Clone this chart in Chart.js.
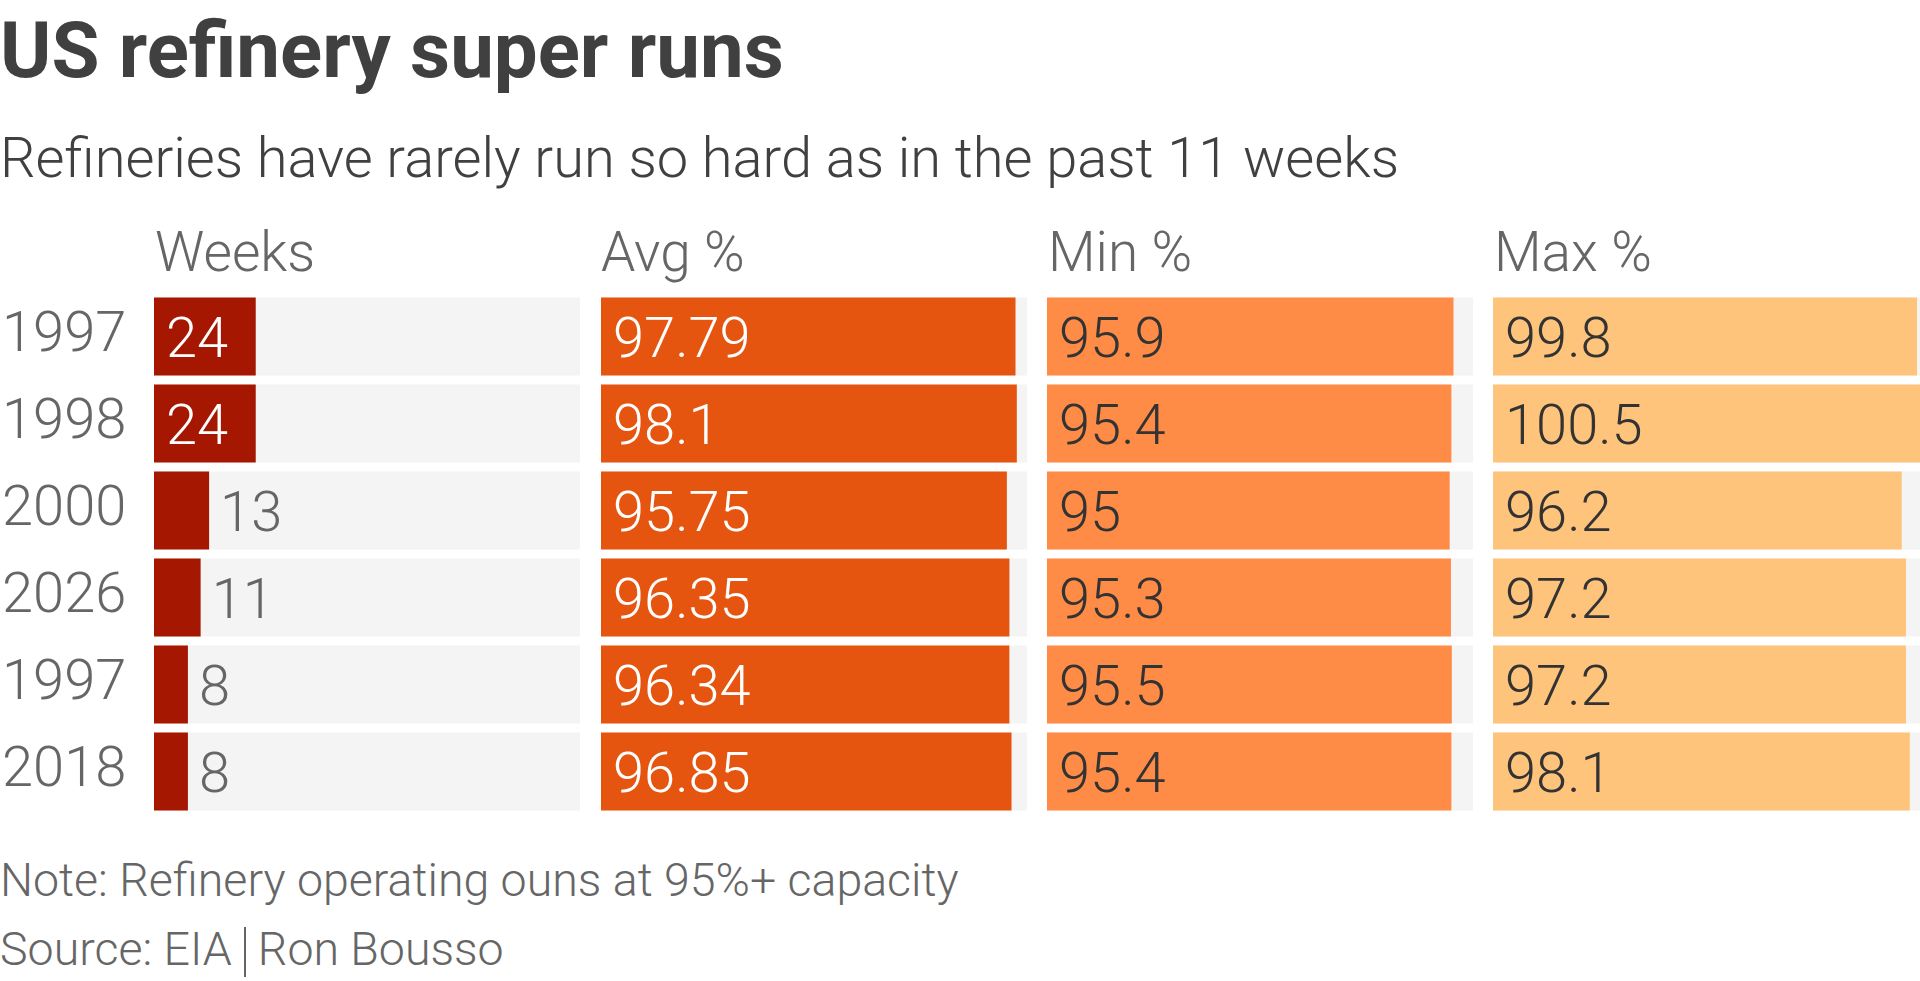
<!DOCTYPE html>
<html>
<head>
<meta charset="utf-8">
<script src="https://cdn.jsdelivr.net/npm/chart.js@4/dist/chart.umd.min.js"></script>
<style>
  html, body { margin:0; padding:0; background:#fff; }
  body { width:1920px; height:981px; position:relative; overflow:hidden; font-family:Roboto, "Noto Sans", sans-serif; }
  .txt { position:absolute; left:0; line-height:1; white-space:nowrap; }
  #title { top:12px; font-size:78px; font-weight:700; color:#404040; }
  #subtitle { top:130px; font-size:56px; font-weight:300; color:#404040; }
  .head { top:225px; font-size:55px; font-weight:300; color:#666; }
  .foot { font-size:46.5px; font-weight:300; color:#666; }
  .sep { display:inline-block; width:2px; height:50px; background:#666; margin:0 12px; vertical-align:-12px; }
  canvas { position:absolute; }
</style>
</head>
<body>
<div id="title" class="txt">US refinery super runs</div>
<div id="subtitle" class="txt">Refineries have rarely run so hard as in the past 11 weeks</div>
<div class="txt head" style="left:155px">Weeks</div>
<div class="txt head" style="left:601px">Avg %</div>
<div class="txt head" style="left:1048px">Min %</div>
<div class="txt head" style="left:1494px">Max %</div>

<canvas id="c0" width="578" height="522" style="left:2px;top:293px"></canvas>
<canvas id="c1" width="426" height="522" style="left:601px;top:293px"></canvas>
<canvas id="c2" width="426" height="522" style="left:1047px;top:293px"></canvas>
<canvas id="c3" width="427" height="522" style="left:1493px;top:293px"></canvas>

<div class="txt foot" style="top:857px">Note: Refinery operating ouns at 95%+ capacity</div>
<div class="txt foot" style="top:926px">Source: EIA<span class="sep"></span>Ron Bousso</div>

<script>
// data
const years = ["1997", "1998", "2000", "2026", "1997", "2018"];
const weeks = [24, 24, 13, 11, 8, 8];
const avgPct = [97.79, 98.1, 95.75, 96.35, 96.34, 96.85];
const minPct = [95.9, 95.4, 95, 95.3, 95.5, 95.4];
const maxPct = [99.8, 100.5, 96.2, 97.2, 97.2, 98.1];

// all columns share one scale, the grey track runs to the largest value
const scaleMax = Math.max(...weeks, ...avgPct, ...minPct, ...maxPct);

const FONT = "Roboto, 'Noto Sans', sans-serif";

// value labels: inside the bar if they fit, otherwise just after it
const valueLabels = {
    id: "valueLabels",
    afterDatasetsDraw(chart, args, opts){
        const ctx = chart.ctx;
        const meta = chart.getDatasetMeta(0);
        const vals = chart.data.datasets[0].data;
        ctx.save();
        ctx.font = "300 56px " + FONT;
        ctx.textBaseline = "alphabetic";
        ctx.textAlign = "left";
        meta.data.forEach((bar, i)=>{
            const p = bar.getProps(["x", "y", "base"], true);
            const txt = String(vals[i]);
            const w = ctx.measureText(txt).width;
            let x, color;
            if (p.x - p.base >= w + 24){ x = p.base + 12; color = opts.inside; }
            else { x = p.x + 11; color = "#666"; }
            ctx.fillStyle = color;
            ctx.fillText(txt, x, p.y + 20);
        });
        ctx.restore();
    }
};

function makeChart(id, values, color, insideColor, showYears){
    new Chart(document.getElementById(id), {
        type: "bar",
        data: {
            labels: years,
            datasets: [
                {data: values, backgroundColor: color, order: 1, grouped: false},
                {data: years.map(()=>scaleMax), backgroundColor: "#f4f4f4", order: 2, grouped: false}
            ]
        },
        options: {
            indexAxis: "y",
            responsive: false,
            animation: false,
            devicePixelRatio: 1,
            layout: {padding: 0},
            categoryPercentage: 78/87,
            barPercentage: 1,
            plugins: {legend: {display: false}, tooltip: {enabled: false}, valueLabels: {inside: insideColor}},
            scales: {
                x: {display: false, min: 0, max: scaleMax},
                y: {
                    display: showYears,
                    grid: {display: false, drawTicks: false},
                    border: {display: false},
                    afterFit: s=>{
                        if (!showYears) return;
                        s.width = 152;
                        s.paddingTop = 0; s.paddingBottom = 0;
                    },
                    ticks: {
                        crossAlign: "far", padding: 0,
                        color: "#666",
                        font: {family: FONT, size: 56, weight: 300}
                    }
                }
            }
        },
        plugins: [valueLabels]
    });
}

makeChart("c0", weeks, "#a51700", "#fff", true);
makeChart("c1", avgPct, "#e5550f", "#fff", false);
makeChart("c2", minPct, "#ff8c46", "#333", false);
makeChart("c3", maxPct, "#ffc47c", "#333", false);
</script>
</body>
</html>
